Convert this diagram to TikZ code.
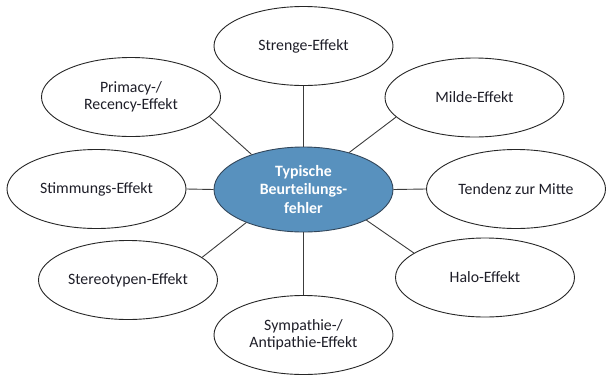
\documentclass[tikz,border=0pt]{standalone}
\usepackage{fontspec}
\setmainfont{Carlito}
\usetikzlibrary{shapes.geometric}
\definecolor{hubfill}{RGB}{88,145,190}
\definecolor{hubdraw}{RGB}{50,70,90}
\definecolor{linkcol}{RGB}{60,60,60}
\definecolor{txtcol}{RGB}{30,30,40}
\tikzset{
  leaf/.style={ellipse, draw=black!85, line width=0.9pt, fill=white, inner sep=0pt,
    minimum width=179pt, minimum height=79pt, align=center, text=txtcol,
    font=\fontsize{15.8}{17.5}\selectfont},
  hub/.style={ellipse, draw=hubdraw, line width=0.9pt, fill=hubfill, inner sep=0pt,
    minimum width=179pt, minimum height=85pt, align=center, text=white,
    font=\fontsize{15.8}{18.8}\selectfont\bfseries},
  link/.style={draw=linkcol, line width=0.9pt}
}
\begin{document}
\begin{tikzpicture}[x=1pt,y=-1pt]
\useasboundingbox (0,0) rectangle (611,381);
\node[hub]  (c)  at (303.5,189.5) {Typische\\Beurteilungs-\\fehler};
\node[leaf] (st) at (303.5,46)    {Strenge-Effekt};
\node[leaf] (mi) at (474.5,97.5)  {Milde-Effekt};
\node[leaf] (te) at (516,189)     {Tendenz zur Mitte};
\node[leaf] (ha) at (485,277.5)   {Halo-Effekt};
\node[leaf] (sy) at (303.5,335)   {Sympathie-/\\Antipathie-Effekt};
\node[leaf] (so) at (128,280)     {Stereotypen-Effekt};
\node[leaf] (sm) at (96.5,189)    {Stimmungs-Effekt};
\node[leaf] (pr) at (131,97)      {Primacy-/\\Recency-Effekt};
\draw[link] (c.north) -- (st.south);
\draw[link] (c.39) -- (mi.194);
\draw[link] (c.east) -- (te.west);
\draw[link] (c.-26) -- (ha.161);
\draw[link] (c.south) -- (sy.north);
\draw[link] (c.-150) -- (so.17);
\draw[link] (c.west) -- (sm.east);
\draw[link] (c.146) -- (pr.-14);
\end{tikzpicture}
\end{document}
